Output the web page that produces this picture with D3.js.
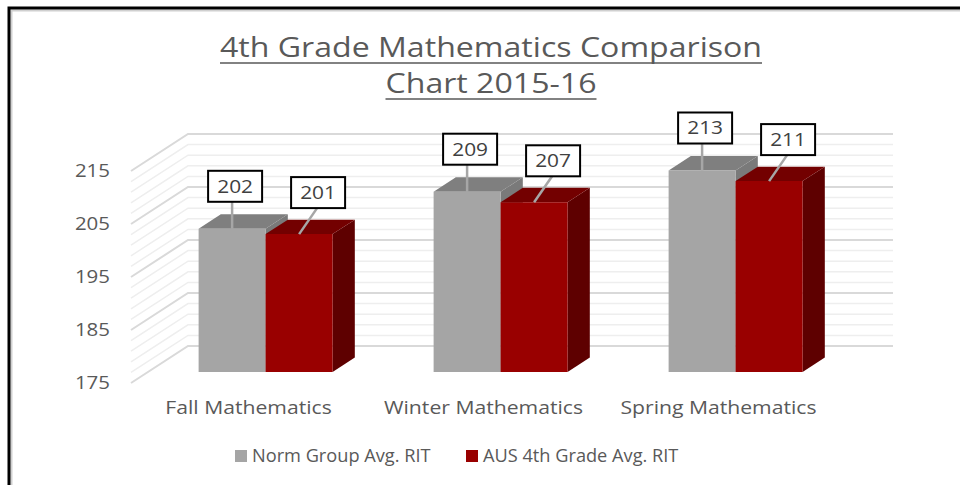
<!DOCTYPE html>
<html>
<head>
<meta charset="utf-8">
<script src="https://cdn.jsdelivr.net/npm/d3@7/dist/d3.min.js"></script>
<style>
  body { margin: 0; background: #fff; }
  svg { display: block; font-family: 'Open Sans', sans-serif; }
</style>
</head>
<body>
<svg id="chart" width="960" height="485"></svg>
<script>
var categories = ['Fall Mathematics', 'Winter Mathematics', 'Spring Mathematics'];
var seriesNames = ['Norm Group Avg. RIT', 'AUS 4th Grade Avg. RIT'];
var normValues = [202, 209, 213];
var ausValues = [201, 207, 211];
var yTicks = [175, 185, 195, 205, 215];
var titleLines = ['4th Grade Mathematics Comparison', 'Chart 2015-16'];

var width = 960;
var height = 485;
// oblique 3d: offset of the back wall relative to the front plane
var depthX = 57;
var depthY = -37;
var barZ = [0.3, 0.69];
// the original text is drawn a little wider than it is tall
var stretch = 1.18;

var colors = [
  { front: '#a5a5a5', top: '#7f7f7f', side: '#7a7a7a' },
  { front: '#990000', top: '#730000', side: '#5e0000' }
];

var svg = d3.select('#chart');

var x = d3.scaleBand().domain(categories).range([131, 836]);
var x1 = d3.scaleBand().domain(seriesNames).range([0, x.bandwidth()]).paddingOuter(0.754);
var y = d3.scaleLinear().domain([175, 215]).range([383, 171]);

function project(px, py, z) {
  return [px + z * depthX, py + z * depthY];
}

// place text at (px, py) and widen it horizontally
function placeText(sel, px, py, sx) {
  return sel.attr('transform', 'translate(' + [px, py] + ') scale(' + sx + ',1)');
}

// frame round the picture
svg.append('path')
  .attr('d', 'M11.5,' + height + 'V10.5H' + width)
  .attr('fill', 'none').attr('stroke', '#d0d0d0').attr('stroke-width', 2);
svg.append('path')
  .attr('d', 'M9,' + height + 'V8H' + width)
  .attr('fill', 'none').attr('stroke', '#000').attr('stroke-width', 3);

// title, underlined
var title = svg.append('g').attr('fill', '#595959');
titleLines.forEach(function(line, i) {
  var t = title.append('text')
    .attr('text-anchor', 'middle')
    .attr('font-size', 28)
    .text(line);
  placeText(t, 491, 57 + i * 36, 1.146);
  var w = t.node().getComputedTextLength() * 1.146;
  title.append('line')
    .attr('x1', 491 - w / 2).attr('x2', 491 + w / 2)
    .attr('y1', 63 + i * 36).attr('y2', 63 + i * 36)
    .attr('stroke', '#595959').attr('stroke-width', 1.3);
});

// wall gridlines, every 2 points, heavier every 10
var grid = d3.range(175, 216, 2);
var walls = svg.append('g');
grid.forEach(function(v) {
  var major = yTicks.indexOf(v) >= 0;
  var a = project(x.range()[0], y(v), 0);
  var b = project(x.range()[0], y(v), 1);
  var c = project(x.range()[1], y(v), 1);
  walls.append('path')
    .attr('d', 'M' + a + 'L' + b + 'L' + c)
    .attr('fill', 'none')
    .attr('stroke', major ? '#d9d9d9' : '#eeeeee')
    .attr('stroke-width', major ? 2 : 1.5);
});

// y axis labels on the front edge
svg.append('g').selectAll('text')
  .data(yTicks).enter().append('text')
  .each(function(d) { placeText(d3.select(this), 110, y(d), 1.17); })
  .attr('dy', '0.35em')
  .attr('text-anchor', 'end')
  .attr('font-size', 17.5)
  .attr('fill', '#595959')
  .text(d => d);

// category labels
svg.append('g').selectAll('text')
  .data(categories).enter().append('text')
  .each(function(d) { placeText(d3.select(this), x(d) + x.bandwidth() / 2, 408, 1.21); })
  .attr('dy', '0.35em')
  .attr('text-anchor', 'middle')
  .attr('font-size', 17.5)
  .attr('fill', '#595959')
  .text(d => d);

// bars, drawn gray then red so the nearer faces cover correctly
var bars = [];
categories.forEach(function(cat, i) {
  [normValues[i], ausValues[i]].forEach(function(v, s) {
    bars.push({ cat: cat, series: s, value: v });
  });
});

var barG = svg.append('g');
bars.forEach(function(d) {
  var x0 = x(d.cat) + x1(seriesNames[d.series]);
  var xr = x0 + x1.bandwidth();
  var yt = y(d.value);
  var yb = y(175);
  var z0 = barZ[0], z1 = barZ[1];
  var col = colors[d.series];
  var side = [project(xr, yt, z0), project(xr, yt, z1), project(xr, yb, z1), project(xr, yb, z0)];
  var top = [project(x0, yt, z0), project(xr, yt, z0), project(xr, yt, z1), project(x0, yt, z1)];
  var front = [project(x0, yt, z0), project(xr, yt, z0), project(xr, yb, z0), project(x0, yb, z0)];
  barG.append('path').attr('d', 'M' + side.join('L') + 'Z').attr('fill', col.side);
  barG.append('path').attr('d', 'M' + top.join('L') + 'Z').attr('fill', col.top);
  barG.append('path').attr('d', 'M' + front.join('L') + 'Z').attr('fill', col.front);
  d.anchor = project((x0 + xr) / 2, yt, z0);
});

// data callouts
var boxW = 54, boxH = 31;
var labelG = svg.append('g');
bars.forEach(function(d) {
  var ax = d.anchor[0], ay = d.anchor[1];
  var cx = d.series ? ax + 19 : ax + 3;
  var bottom = d.series ? ay - 26 : ay - 27;
  var lx = d.series ? cx - 1 : ax;
  labelG.append('line')
    .attr('x1', ax).attr('y1', ay)
    .attr('x2', lx).attr('y2', bottom)
    .attr('stroke', '#a6a6a6').attr('stroke-width', 2.5);
  labelG.append('rect')
    .attr('x', cx - boxW / 2).attr('y', bottom - boxH)
    .attr('width', boxW).attr('height', boxH)
    .attr('fill', '#fff').attr('stroke', '#000').attr('stroke-width', 2);
  var t = labelG.append('text')
    .attr('dy', '0.35em')
    .attr('text-anchor', 'middle')
    .attr('font-size', 18)
    .attr('fill', '#404040')
    .text(d.value);
  placeText(t, cx, bottom - boxH / 2, 1.16);
});

// legend
var legendX = [235, 466];
var legend = svg.append('g').selectAll('g')
  .data(seriesNames).enter().append('g')
  .attr('transform', (d, i) => 'translate(' + [legendX[i], 456] + ')');
legend.append('rect')
  .attr('x', 0).attr('y', -6).attr('width', 12).attr('height', 12)
  .attr('fill', (d, i) => colors[i].front);
legend.append('text')
  .attr('transform', 'translate(17,0) scale(1.04,1)')
  .attr('dy', '0.35em')
  .attr('font-size', 17.5)
  .attr('fill', '#595959')
  .text(d => d);
</script>
</body>
</html>
